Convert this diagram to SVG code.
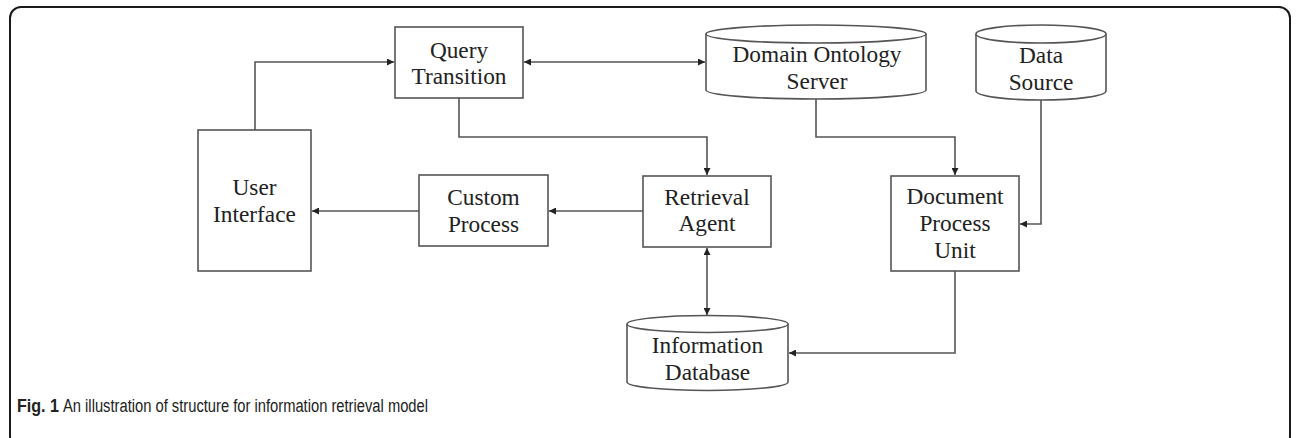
<svg xmlns="http://www.w3.org/2000/svg" width="1296" height="438" viewBox="0 0 1296 438">
<style>
.frame{fill:none;stroke:#1a1a1a;stroke-width:2}
.box{fill:#fff;stroke:#555;stroke-width:1.6}
.cyl{fill:#fff;stroke:#555;stroke-width:1.6}
.lbl{font-family:"Liberation Serif","Times New Roman",serif;font-size:23.3px;fill:#222;text-anchor:middle}
.conn{fill:none;stroke:#555;stroke-width:1.6}
.cap{font-family:"Liberation Sans",Arial,sans-serif;font-size:18px;fill:#222}
</style>
<defs>
<marker id="ah" viewBox="0 0 10 10" refX="10" refY="5" markerWidth="7" markerHeight="7" markerUnits="userSpaceOnUse" orient="auto-start-reverse">
<path d="M0,0 L10,5 L0,10 z" fill="#222"/>
</marker>
</defs>
<rect class="frame" x="10" y="7" width="1280" height="440" rx="11"/>
<g id="connectors">
<path class="conn" d="M255,130 V62 H394" marker-end="url(#ah)"/>
<path class="conn" d="M524,62 H705" marker-start="url(#ah)" marker-end="url(#ah)"/>
<path class="conn" d="M459,98 V137 H707 V175" marker-end="url(#ah)"/>
<path class="conn" d="M816,99 V137 H955 V175" marker-end="url(#ah)"/>
<path class="conn" d="M1041,100 V224 H1020" marker-end="url(#ah)"/>
<path class="conn" d="M643,211 H549" marker-end="url(#ah)"/>
<path class="conn" d="M419,211 H312" marker-end="url(#ah)"/>
<path class="conn" d="M707,248 V315" marker-start="url(#ah)" marker-end="url(#ah)"/>
<path class="conn" d="M955,271 V353 H789" marker-end="url(#ah)"/>
</g>
<g id="query-transition">
<rect class="box" x="395" y="27" width="128" height="71"/>
<text class="lbl" x="459" y="58">Query</text>
<text class="lbl" x="459" y="84">Transition</text>
</g>
<g id="user-interface">
<rect class="box" x="198" y="130" width="113" height="141"/>
<text class="lbl" x="254.5" y="195">User</text>
<text class="lbl" x="254.5" y="222">Interface</text>
</g>
<g id="custom-process">
<rect class="box" x="419" y="175" width="129" height="71"/>
<text class="lbl" x="483.5" y="205">Custom</text>
<text class="lbl" x="483.5" y="232">Process</text>
</g>
<g id="retrieval-agent">
<rect class="box" x="643" y="176" width="128" height="71"/>
<text class="lbl" x="707" y="205">Retrieval</text>
<text class="lbl" x="707" y="231">Agent</text>
</g>
<g id="document-process-unit">
<rect class="box" x="891" y="176" width="128" height="95"/>
<text class="lbl" x="955" y="204">Document</text>
<text class="lbl" x="955" y="231">Process</text>
<text class="lbl" x="955" y="258">Unit</text>
</g>
<g id="domain-ontology-server">
<path class="cyl" d="M706,34 V90 A110,9 0 0 0 926,90 V34"/>
<ellipse class="cyl" cx="816" cy="34" rx="110" ry="9"/>
<text class="lbl" x="817" y="62">Domain Ontology</text>
<text class="lbl" x="817" y="89">Server</text>
</g>
<g id="data-source">
<path class="cyl" d="M976,34 V91 A65,9 0 0 0 1106,91 V34"/>
<ellipse class="cyl" cx="1041" cy="34" rx="65" ry="9"/>
<text class="lbl" x="1041" y="63">Data</text>
<text class="lbl" x="1041" y="90">Source</text>
</g>
<g id="information-database">
<path class="cyl" d="M627,324 V382 A80.5,8.5 0 0 0 788,382 V324"/>
<ellipse class="cyl" cx="707.5" cy="324" rx="80.5" ry="8.5"/>
<text class="lbl" x="707.5" y="353">Information</text>
<text class="lbl" x="707.5" y="380">Database</text>
</g>
<g id="caption">
<text class="cap" x="17" y="412" font-weight="bold" textLength="42" lengthAdjust="spacingAndGlyphs">Fig. 1</text>
<text class="cap" x="63" y="412" textLength="365" lengthAdjust="spacingAndGlyphs">An illustration of structure for information retrieval model</text>
</g>
</svg>
